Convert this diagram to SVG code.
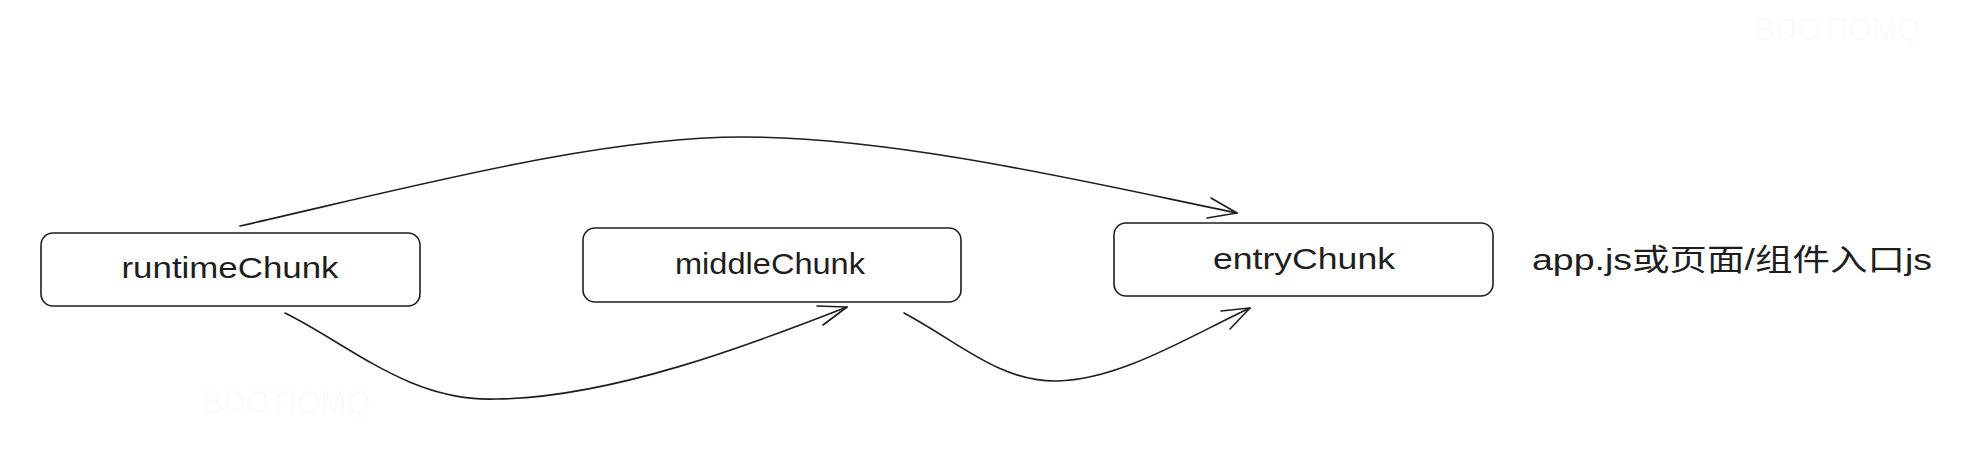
<svg xmlns="http://www.w3.org/2000/svg" width="1983" height="467" viewBox="0 0 1983 467">
<style>
.box{fill:#ffffff;stroke:#1e1e1e;stroke-width:1.6}
.lbl{font-family:"Liberation Sans","Noto Sans",sans-serif;font-size:30px;fill:#1e1e1e;text-anchor:middle}
.edge{fill:none;stroke:#1e1e1e;stroke-width:1.6;stroke-linecap:round;stroke-linejoin:round}
.wm{font-family:"Liberation Sans",sans-serif;font-size:32px;fill:#fafafa}
.note{font-family:"Liberation Sans","Noto Sans CJK SC",sans-serif;font-size:30px;fill:#1e1e1e}
</style>
<rect width="1983" height="467" fill="#ffffff"/>
<text class="wm" x="1755" y="40" textLength="166" lengthAdjust="spacingAndGlyphs">BDOTIOMQ</text>
<text class="wm" x="203" y="413" textLength="167" lengthAdjust="spacingAndGlyphs">BDOTIOMQ</text>
<g id="connectors">
<path class="edge" d="M240 226 C 420 185, 600 137, 743 137 C 900 137, 1100 185, 1237 213"/>
<path class="edge" d="M1211 198 L1237 213 L1207 218"/>
<path class="edge" d="M285 313 C 350 345, 410 402, 496 399 C 610 398, 750 345, 847 307"/>
<path class="edge" d="M817 306 L847 307 L823 325"/>
<path class="edge" d="M904 313 C 960 343, 1000 382, 1057 381 C 1120 380, 1190 336, 1250 308"/>
<path class="edge" d="M1221 311 L1250 308 L1230 329"/>
</g>
<g id="runtimeChunk">
<rect class="box" x="41" y="233" width="379" height="73" rx="12"/>
<text class="lbl" x="230" y="278" textLength="217" lengthAdjust="spacingAndGlyphs">runtimeChunk</text>
</g>
<g id="middleChunk">
<rect class="box" x="583" y="228" width="378" height="74" rx="12"/>
<text class="lbl" x="770" y="274" textLength="190" lengthAdjust="spacingAndGlyphs">middleChunk</text>
</g>
<g id="entryChunk">
<rect class="box" x="1114" y="223" width="379" height="73" rx="12"/>
<text class="lbl" x="1304" y="269" textLength="182" lengthAdjust="spacingAndGlyphs">entryChunk</text>
</g>
<g id="note">
<text class="note" x="1532" y="270" textLength="400" lengthAdjust="spacingAndGlyphs">app.js或页面/组件入口js</text>
</g>
</svg>
